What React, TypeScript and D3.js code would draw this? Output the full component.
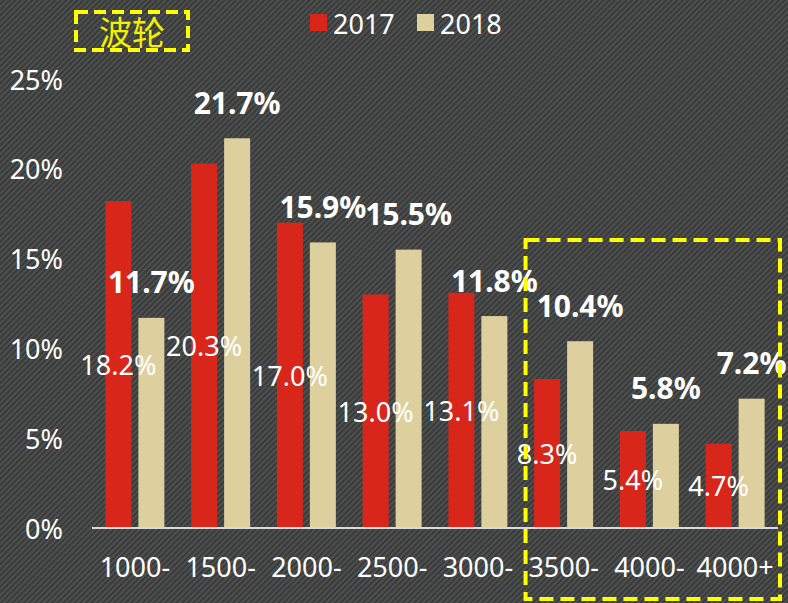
import React from 'react';
import * as d3 from 'd3';

const categories = ['1000-', '1500-', '2000-', '2500-', '3000-', '3500-', '4000-', '4000+'];
const values2017 = [18.2, 20.3, 17.0, 13.0, 13.1, 8.3, 5.4, 4.7];
const values2018 = [11.7, 21.7, 15.9, 15.5, 11.8, 10.4, 5.8, 7.2];
const series = ['2017', '2018'];
const yTicks = [0, 5, 10, 15, 20, 25];

const W = 788;
const H = 603;
const RED = '#d9261b';
const TAN = '#ddd09e';
const FONT = '"Noto Sans", "Open Sans", sans-serif';

const App = () => {
    const x0 = d3.scaleBand().domain(categories).range([92, 778]).paddingInner(0.312).paddingOuter(0.156);
    const x1 = d3.scaleBand().domain(series).range([0, x0.bandwidth()]).paddingInner(0.212);
    const y = d3.scaleLinear().domain([0, 25]).range([528, 79]);

    // highlight box around the last three groups
    const boxX0 = x0('3500-') - x0.step() * 0.1;
    const boxX1 = 780;

    return (
        <svg width={W} height={H} style={{ position: 'absolute', left: 0, top: 0 }}>
            <defs>
                <pattern id="carbon" width="4" height="4" patternUnits="userSpaceOnUse" patternTransform="rotate(-45)">
                    <rect width="4" height="4" fill="#383b39" />
                    <rect width="4" height="2" fill="#4d504e" />
                </pattern>
            </defs>
            <rect width={W} height={H} fill="url(#carbon)" />

            {/* y tick labels */}
            {yTicks.map(t => (
                <text key={t} x={63} y={y(t)} textAnchor="end" dominantBaseline="central"
                    fill="#fff" fontFamily={FONT} fontSize={27}>{t + '%'}</text>
            ))}

            {/* bars */}
            {categories.map((c, i) => (
                <g key={c} transform={`translate(${x0(c)},0)`}>
                    <rect x={x1('2017')} y={y(values2017[i])} width={x1.bandwidth()}
                        height={y(0) - y(values2017[i])} fill={RED} />
                    <rect x={x1('2018')} y={y(values2018[i])} width={x1.bandwidth()}
                        height={y(0) - y(values2018[i])} fill={TAN} />
                </g>
            ))}

            {/* baseline */}
            <line x1={92} x2={778} y1={y(0)} y2={y(0)} stroke="#d9d9d9" strokeWidth={2} />

            {/* labels 2017: inside center */}
            {categories.map((c, i) => (
                <text key={'l17' + c} x={x0(c) + x1('2017') + x1.bandwidth() / 2}
                    y={(y(values2017[i]) + y(0)) / 2} textAnchor="middle" dominantBaseline="central"
                    fill="#fff" fontFamily={FONT} fontSize={27}>{values2017[i].toFixed(1) + '%'}</text>
            ))}

            {/* labels 2018: bold above bar */}
            {categories.map((c, i) => (
                <text key={'l18' + c} x={x0(c) + x1('2018') + x1.bandwidth() / 2}
                    y={y(values2018[i]) - 36} textAnchor="middle" dominantBaseline="central"
                    fill="#fff" fontFamily={FONT} fontSize={30} fontWeight="bold">{values2018[i].toFixed(1) + '%'}</text>
            ))}

            {/* x labels */}
            {categories.map(c => (
                <text key={'x' + c} x={x0(c) + x0.bandwidth() / 2} y={566} textAnchor="middle"
                    dominantBaseline="central" fill="#fff" fontFamily={FONT} fontSize={27}>{c}</text>
            ))}

            {/* legend */}
            <rect x={310} y={14} width={17} height={17} fill={RED} />
            <text x={333} y={23} dominantBaseline="central" fill="#fff" fontFamily={FONT} fontSize={27}>2017</text>
            <rect x={417} y={14} width={17} height={17} fill={TAN} />
            <text x={440} y={23} dominantBaseline="central" fill="#fff" fontFamily={FONT} fontSize={27}>2018</text>

            {/* title */}
            <rect x={76} y={12} width={112} height={38} fill="none" stroke="#ffff00" strokeWidth={4} strokeDasharray="12 6" />
            <text x={132} y={31} textAnchor="middle" dominantBaseline="central" fill="#f5f000"
                fontFamily='"Noto Sans CJK SC", sans-serif' fontSize={33}>波轮</text>

            {/* highlight box */}
            <rect x={boxX0} y={240} width={boxX1 - boxX0} height={359} fill="none"
                stroke="#ffff00" strokeWidth={4} strokeDasharray="14 7" />
        </svg>
    );
};

export default App;
